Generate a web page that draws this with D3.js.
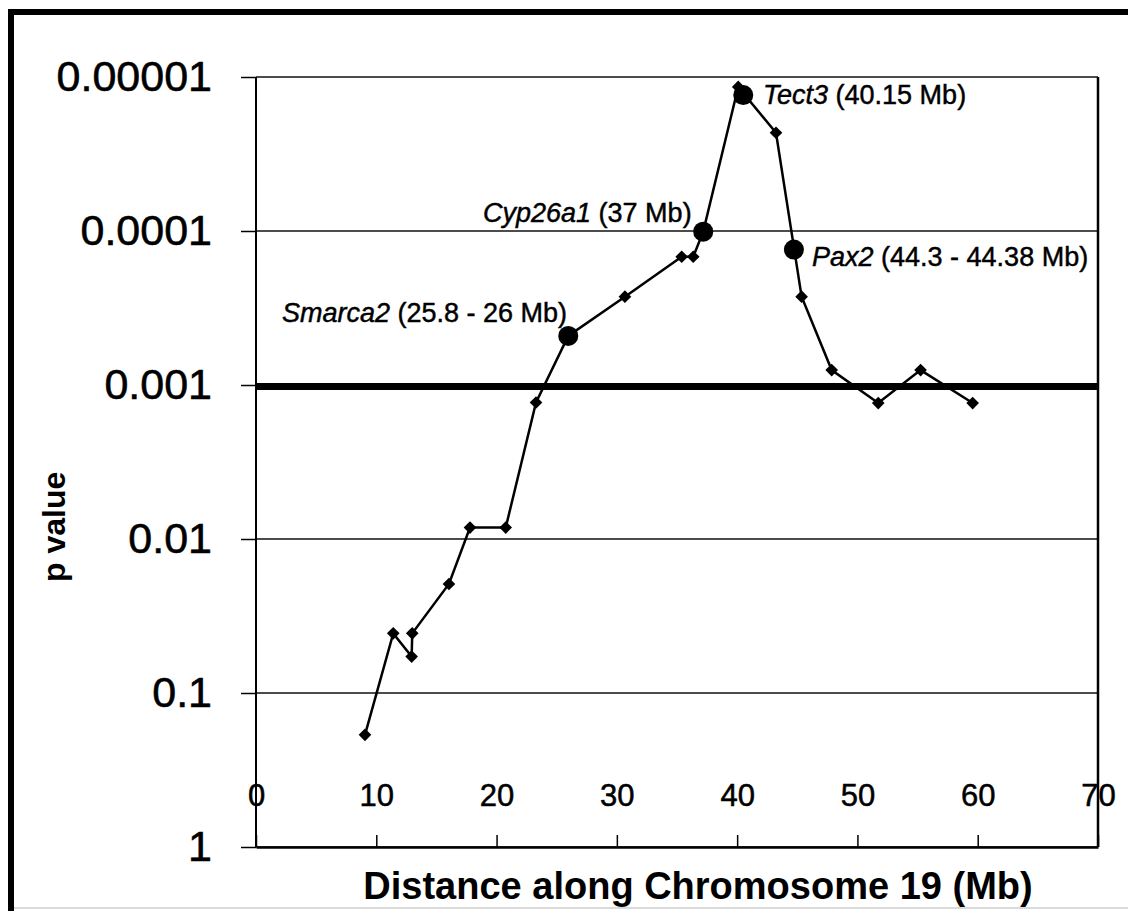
<!DOCTYPE html>
<html>
<head>
<meta charset="utf-8">
<script src="https://cdn.jsdelivr.net/npm/d3@7"></script>
<style>
  html, body { margin: 0; padding: 0; background: #fff; }
  svg { display: block; font-family: "Liberation Sans", Arial, sans-serif; }
</style>
</head>
<body>
<svg id="chart" width="1128" height="911"></svg>
<script>
// ---- data ----
const positionsMb = [9.06, 11.41, 12.94, 12.99, 16.04, 17.79, 20.76, 23.28, 25.96, 30.67, 35.39, 36.35, 37.18, 40.09, 43.23, 45.36, 47.86, 51.73, 55.25, 59.58];
const pValues     = [0.187, 0.041, 0.058, 0.041, 0.0196, 0.00843, 0.00843, 0.0013, 0.00048, 0.000267, 0.000147, 0.000147, 0.000101, 0.0000116, 0.000023, 0.000267, 0.0008, 0.00131, 0.0008, 0.00131];

const geneNames     = ["Smarca2", "Cyp26a1", "Tect3", "Pax2"];
const geneRanges    = [" (25.8 - 26 Mb)", " (37 Mb)", " (40.15 Mb)", " (44.3 - 44.38 Mb)"];
const genePositions = [25.96, 37.18, 40.51, 44.72];
const genePValues   = [0.00048, 0.000101, 0.0000131, 0.000132];

const thresholdP = 0.001;

const xTicks = [0, 10, 20, 30, 40, 50, 60, 70];
const yTicks = [1, 0.1, 0.01, 0.001, 0.0001, 0.00001];
const yTickLabels = ["1", "0.1", "0.01", "0.001", "0.0001", "0.00001"];

const xTitle = "Distance along Chromosome 19 (Mb)";
const yTitle = "p value";

// ---- layout ----
const svg = d3.select("#chart");
const L = 256, R = 1098, T = 77, B = 847;

const x = d3.scaleLinear().domain([0, 70]).range([L, R]);
const y = d3.scaleLog().domain([1, 0.00001]).range([B, T]);

// outer frame
svg.append("line").attr("x1", 8).attr("x2", 1128).attr("y1", 12).attr("y2", 12)
  .attr("stroke", "#000").attr("stroke-width", 6);
svg.append("line").attr("x1", 11).attr("x2", 11).attr("y1", 9).attr("y2", 911)
  .attr("stroke", "#000").attr("stroke-width", 6);
svg.append("line").attr("x1", 14).attr("x2", 1128).attr("y1", 908).attr("y2", 908)
  .attr("stroke", "#cfcfcf").attr("stroke-width", 1.5);

// gridlines
svg.append("g").selectAll("line").data(yTicks).join("line")
  .attr("x1", L).attr("x2", R)
  .attr("y1", d => y(d)).attr("y2", d => y(d))
  .attr("stroke", "#111").attr("stroke-width", 1.6);

// plot frame: left and right
svg.append("line").attr("x1", L).attr("x2", L).attr("y1", T).attr("y2", B)
  .attr("stroke", "#000").attr("stroke-width", 2);
svg.append("line").attr("x1", R).attr("x2", R).attr("y1", T).attr("y2", B)
  .attr("stroke", "#000").attr("stroke-width", 2.5);

// threshold line
svg.append("line").attr("x1", L).attr("x2", R)
  .attr("y1", y(thresholdP) + 1.5).attr("y2", y(thresholdP) + 1.5)
  .attr("stroke", "#000").attr("stroke-width", 7);

// y axis
const yAxis = d3.axisLeft(y).tickValues(yTicks)
  .tickFormat((d, i) => yTickLabels[i])
  .tickSizeInner(15).tickSizeOuter(0).tickPadding(29);
const gy = svg.append("g").attr("transform", `translate(${L},0)`).call(yAxis);
gy.select(".domain").remove();
gy.selectAll(".tick line").attr("stroke", "#000").attr("stroke-width", 1.5);
gy.selectAll(".tick text").attr("font-size", 43).attr("fill", "#000")
  .attr("stroke", "#000").attr("stroke-width", 0.6)
  .attr("font-family", "Liberation Sans, Arial, sans-serif");

// x axis ticks (bottom, pointing up)
const xAxisTicks = d3.axisTop(x).tickValues(xTicks).tickFormat("")
  .tickSizeInner(12).tickSizeOuter(0);
const gx = svg.append("g").attr("transform", `translate(0,${B})`).call(xAxisTicks);
gx.select(".domain").attr("stroke", "#000").attr("stroke-width", 2.5);
gx.selectAll(".tick line").attr("stroke", "#000").attr("stroke-width", 1.5);

// x axis labels (placed inside plot as in the reference)
const xAxisLabels = d3.axisBottom(x).tickValues(xTicks).tickFormat(d3.format("d"))
  .tickSize(0).tickPadding(0);
const gxl = svg.append("g").attr("transform", "translate(0,795)").call(xAxisLabels);
gxl.select(".domain").remove();
gxl.selectAll(".tick text").attr("font-size", 31).attr("fill", "#000")
  .attr("stroke", "#000").attr("stroke-width", 0.5)
  .attr("dy", "0.35em").attr("y", 0)
  .attr("font-family", "Liberation Sans, Arial, sans-serif");

// data line
const line = d3.line().x((d, i) => x(positionsMb[i])).y((d, i) => y(pValues[i]));
svg.append("path").datum(pValues).attr("d", line)
  .attr("fill", "none").attr("stroke", "#000").attr("stroke-width", 2.5);

// diamonds
const diamond = d3.symbol().type(d3.symbolSquare).size(80);
svg.append("g").selectAll("path").data(pValues).join("path")
  .attr("d", diamond)
  .attr("transform", (d, i) => `translate(${x(positionsMb[i])},${y(d)}) rotate(45)`)
  .attr("fill", "#000");

// gene circles
svg.append("g").selectAll("circle").data(genePValues).join("circle")
  .attr("cx", (d, i) => x(genePositions[i])).attr("cy", d => y(d))
  .attr("r", 10).attr("fill", "#000");

// gene labels
const labelPos = [[282, 322], [483, 222], [763, 104], [812, 266]];
const gl = svg.append("g");
geneNames.forEach((name, i) => {
  const t = gl.append("text").attr("x", labelPos[i][0]).attr("y", labelPos[i][1])
    .attr("font-size", 27).attr("fill", "#000")
    .attr("stroke", "#000").attr("stroke-width", 0.45);
  t.append("tspan").attr("font-style", "italic").text(name);
  t.append("tspan").text(geneRanges[i]);
});

// axis titles
svg.append("text").attr("x", 698).attr("y", 899).attr("text-anchor", "middle")
  .attr("font-size", 38).attr("font-weight", "bold").attr("fill", "#000").text(xTitle);
svg.append("text").attr("transform", "translate(65,582) rotate(-90)")
  .attr("text-anchor", "start")
  .attr("font-size", 32).attr("font-weight", "bold").attr("fill", "#000").text(yTitle);
</script>
</body>
</html>
